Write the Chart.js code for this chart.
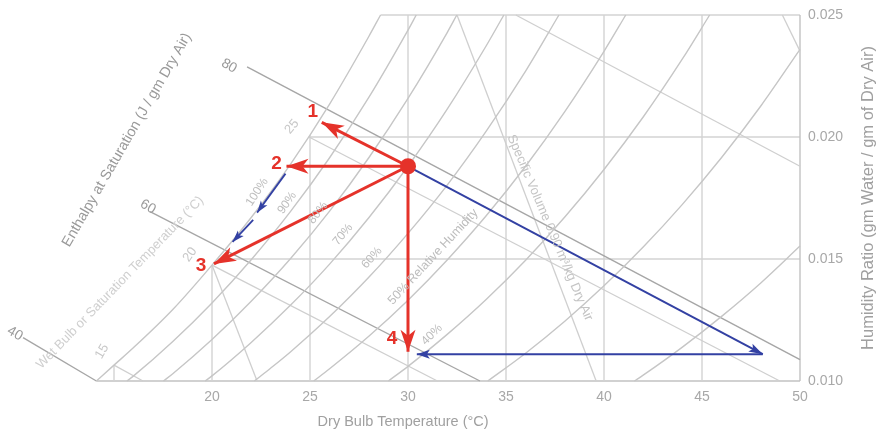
<!DOCTYPE html>
<html>
<head>
<meta charset="utf-8">
<script src="https://cdn.jsdelivr.net/npm/chart.js@4.4.1/dist/chart.umd.min.js"></script>
<style>
  html, body { margin: 0; padding: 0; background: #fff; }
</style>
</head>
<body>
<canvas id="psychro" width="879" height="433"></canvas>
<script>
// Axis ticks
const tempTicks = [20, 25, 30, 35, 40, 45, 50];
const ratioTicks = [0.010, 0.015, 0.020, 0.025];

// Grid lines (stop at the saturation curve)
const gridVertT = [15, 20, 25, 30, 35, 40, 45, 50];
const gridVertTop = [0.01065, 0.01475, 0.02008, 0.025, 0.025, 0.025, 0.025, 0.025];
const gridHorzW = [0.010, 0.015, 0.020, 0.025];
const gridHorzStart = [14.1, 20.25, 24.93, 28.6];

// Relative humidity curves: [dry bulb °C, humidity ratio]
const rh100 = [[14.1, 0.01000], [15, 0.01065], [16, 0.01137], [18, 0.01293], [20, 0.01475], [22, 0.01670], [24, 0.01888], [26, 0.02135], [28, 0.02412], [28.6, 0.02500]];
const rh90 = [[15.66, 0.01000], [16, 0.01021], [18, 0.01162], [20, 0.01320], [22, 0.01497], [24, 0.01694], [26, 0.01915], [28, 0.02162], [30, 0.02438], [30.42, 0.02500]];
const rh80 = [[17.52, 0.01000], [18, 0.01030], [20, 0.01170], [22, 0.01327], [24, 0.01501], [26, 0.01696], [28, 0.01915], [30, 0.02158], [32, 0.02428], [32.49, 0.02500]];
const rh70 = [[19.65, 0.01000], [20, 0.01021], [22, 0.01158], [24, 0.01310], [26, 0.01479], [28, 0.01669], [30, 0.01880], [32, 0.02114], [34, 0.02375], [34.89, 0.02500]];
const rh60 = [[22.16, 0.01000], [23, 0.01053], [24, 0.01119], [26, 0.01264], [28, 0.01425], [30, 0.01605], [32, 0.01803], [34, 0.02025], [36, 0.02270], [37.7, 0.02500]];
const rh50 = [[25.19, 0.01000], [26, 0.01050], [28, 0.01183], [30, 0.01331], [32, 0.01496], [34, 0.01678], [36, 0.01880], [38, 0.02104], [40, 0.02351], [41.11, 0.02500]];
const rh40 = [[29.0, 0.01000], [30, 0.01060], [32, 0.01191], [34, 0.01335], [36, 0.01495], [38, 0.01672], [40, 0.01867], [42, 0.02082], [44, 0.02320], [45.39, 0.02500]];
const rh30 = [[34.07, 0.01000], [36, 0.01114], [38, 0.01245], [40, 0.01390], [42, 0.01549], [44, 0.01724], [46, 0.01916], [48, 0.02127], [50, 0.02359]];
const rh20 = [[41.55, 0.01000], [42, 0.01024], [44, 0.01139], [46, 0.01265], [48, 0.01402], [50, 0.01553]];

// Enthalpy lines (40, 60, 80 J/g)
const h40 = [[10.36, 0.01178], [14.1, 0.01000]];
const h60 = [[16.84, 0.01694], [33.67, 0.01000]];
const h80 = [[21.79, 0.02287], [50, 0.01088]];

// Wet bulb lines
const wb15 = [[15, 0.01065], [16.48, 0.01000]];
const wb20 = [[20, 0.01475], [31.5, 0.01000]];
const wb25 = [[24.95, 0.02000], [48.97, 0.01000]];
const wb30 = [[35.5, 0.02500], [50, 0.01880]];

// Specific volume lines
const v85 = [[20.0, 0.01475], [22.3, 0.01000]];
const v90 = [[32.5, 0.02500], [39.6, 0.01000]];
const v95 = [[49.1, 0.02500], [50, 0.02352]];

// Process
const statePoint = [30.0, 0.0188];
const point1 = [25.6, 0.0206];
const point2 = [23.8, 0.0188];
const point3 = [20.1, 0.0148];
const point4 = [30.0, 0.0112];
const heatedPoint = [48.1, 0.0111];
const returnPoint = [30.45, 0.0111];
const satPathA = [[23.75, 0.0185], [22.3, 0.0169]];
const satPathB = [[22.1, 0.0166], [21.05, 0.0157]];

const RED = '#e5322a';
const BLUE = '#3341a3';
const FONT = '"Liberation Sans", Arial, Helvetica, sans-serif';

const pts = arr => arr.map(p => ({ x: p[0], y: p[1] }));
function line(arr, color, width, extra) {
    return Object.assign({
        data: pts(arr),
        showLine: true,
        borderColor: color,
        borderWidth: width,
        pointRadius: 0,
        clip: false,
        order: 10
    }, extra || {});
}

const datasets = [];
// state point on top
datasets.push({ data: pts([statePoint]), pointRadius: 8, pointBackgroundColor: RED, pointBorderWidth: 0, order: 0, clip: false });
// red arrows
[point1, point2, point3, point4].forEach(p => datasets.push(line([statePoint, p], RED, 3, { order: 1 })));
// blue arrows
datasets.push(line([statePoint, heatedPoint], BLUE, 2, { order: 2 }));
datasets.push(line([heatedPoint, returnPoint], BLUE, 2, { order: 2 }));
datasets.push(line(satPathA, BLUE, 1.8, { order: 2 }));
datasets.push(line(satPathB, BLUE, 1.8, { order: 2 }));

// chart lines
[rh100, rh90, rh80, rh70, rh60, rh50, rh40, rh30, rh20].forEach(c =>
    datasets.push(line(c, '#c6c6c6', 1.4, { cubicInterpolationMode: 'monotone' })));
[h40, h60, h80].forEach(c => datasets.push(line(c, '#a6a6a6', 1.4)));
[wb15, wb20, wb25, wb30].forEach(c => datasets.push(line(c, '#cfcfcf', 1.3)));
[v85, v90, v95].forEach(c => datasets.push(line(c, '#cfcfcf', 1.3)));
gridVertT.forEach((t, i) => datasets.push(line([[t, 0.010], [t, gridVertTop[i]]], t === 50 ? '#c2c2c2' : '#d3d3d3', 1.4, { order: 20 })));
gridHorzW.forEach((w, i) => datasets.push(line([[gridHorzStart[i], w], [50, w]], w === 0.010 ? '#c2c2c2' : '#d3d3d3', 1.4, { order: 20 })));

// text placed on the chart (data position, angle)
const notes = [
    { t: 'Wet Bulb or Saturation Temperature (°C)', at: [15.31, 0.01403], a: -46, s: 13, c: '#cfcfcf' },
    { t: 'Enthalpy at Saturation (J / gm Dry Air)', at: [15.66, 0.01988], a: -60, s: 14.5, c: '#9a9a9a' },
    { t: '100%', at: [22.3, 0.01774], a: -57, s: 12, c: '#bdbdbd' },
    { t: '90%', at: [23.83, 0.01730], a: -55, s: 12, c: '#bdbdbd' },
    { t: '80%', at: [25.41, 0.01689], a: -52, s: 12, c: '#bdbdbd' },
    { t: '70%', at: [26.68, 0.01600], a: -50, s: 12, c: '#bdbdbd' },
    { t: '60%', at: [28.16, 0.01505], a: -48, s: 12, c: '#bdbdbd' },
    { t: '50% Relative Humidity', at: [31.28, 0.01509], a: -47, s: 12.5, c: '#bdbdbd' },
    { t: '40%', at: [31.22, 0.01190], a: -45, s: 12, c: '#bdbdbd' },
    { t: 'Specific Volume 0.90 m³/kg Dry Air', at: [37.24, 0.01628], a: 67, s: 13, c: '#c4c4c4' },
    { t: '15', at: [14.39, 0.01121], a: -60, s: 13, c: '#c8c8c8' },
    { t: '20', at: [18.88, 0.01518], a: -55, s: 13, c: '#c8c8c8' },
    { t: '25', at: [24.08, 0.02042], a: -50, s: 13, c: '#c8c8c8' },
    { t: '40', at: [9.95, 0.01194], a: 30, s: 14, c: '#9a9a9a' },
    { t: '60', at: [16.73, 0.01714], a: 30, s: 14, c: '#9a9a9a' },
    { t: '80', at: [20.87, 0.02291], a: 30, s: 14, c: '#9a9a9a' }
];

function arrowHead(ctx, from, to, color, len, hw, notch) {
    const ang = Math.atan2(to[1] - from[1], to[0] - from[0]);
    ctx.save();
    ctx.translate(to[0], to[1]);
    ctx.rotate(ang);
    ctx.beginPath();
    ctx.moveTo(0, 0);
    ctx.lineTo(-len, -hw);
    ctx.lineTo(-len + notch, 0);
    ctx.lineTo(-len, hw);
    ctx.closePath();
    ctx.fillStyle = color;
    ctx.fill();
    ctx.restore();
}

function text(ctx, str, x, y, deg, size, color, align, bold) {
    ctx.save();
    ctx.translate(x, y);
    ctx.rotate(deg * Math.PI / 180);
    ctx.font = (bold ? 'bold ' : '') + size + 'px ' + FONT;
    ctx.fillStyle = color;
    ctx.textAlign = align || 'center';
    ctx.textBaseline = 'middle';
    ctx.fillText(str, 0, 0);
    ctx.restore();
}

const decor = {
    id: 'decor',
    afterDatasetsDraw(chart) {
        const ctx = chart.ctx;
        const xs = chart.scales.x, ys = chart.scales.y;
        const P = p => [xs.getPixelForValue(p[0]), ys.getPixelForValue(p[1])];

        notes.forEach(n => {
            const q = P(n.at);
            text(ctx, n.t, q[0], q[1], n.a, n.s, n.c);
        });

        // axis ticks and titles
        tempTicks.forEach(t => text(ctx, String(t), xs.getPixelForValue(t), 397, 0, 14, '#a8a8a8'));
        ratioTicks.forEach(w => text(ctx, w.toFixed(3), 808, ys.getPixelForValue(w), 0, 14, '#a8a8a8', 'left'));
        text(ctx, 'Dry Bulb Temperature (°C)', xs.getPixelForValue(29.75), 422, 0, 14.5, '#a0a0a0');
        text(ctx, 'Humidity Ratio (gm Water / gm of Dry Air)', 868, ys.getPixelForValue(0.0175), -90, 16.5, '#a0a0a0');

        // arrow heads
        [point1, point2, point3, point4].forEach(p => arrowHead(ctx, P(statePoint), P(p), RED, 22, 7.5, 6));
        arrowHead(ctx, P(statePoint), P(heatedPoint), BLUE, 14, 4.5, 3);
        arrowHead(ctx, P(heatedPoint), P(returnPoint), BLUE, 13, 4.5, 3);
        arrowHead(ctx, P(satPathA[0]), P(satPathA[1]), BLUE, 12, 4, 3);
        arrowHead(ctx, P(satPathB[0]), P(satPathB[1]), BLUE, 12, 4, 3);

        // point numbers
        const tags = [[point1, -9, -11], [point2, -10, -3], [point3, -13, 2], [point4, -16, -13]];
        tags.forEach((g, i) => {
            const q = P(g[0]);
            text(ctx, String(i + 1), q[0] + g[1], q[1] + g[2], 0, 19, RED, 'center', true);
        });
    }
};

new Chart(document.getElementById('psychro'), {
    type: 'scatter',
    data: { datasets: datasets },
    options: {
        responsive: false,
        animation: false,
        devicePixelRatio: 1,
        layout: { padding: { left: 114, right: 79, top: 15, bottom: 52 } },
        scales: {
            x: { type: 'linear', min: 15, max: 50, display: false },
            y: { type: 'linear', min: 0.010, max: 0.025, display: false }
        },
        plugins: {
            legend: { display: false },
            tooltip: { enabled: false }
        }
    },
    plugins: [decor]
});
</script>
</body>
</html>
